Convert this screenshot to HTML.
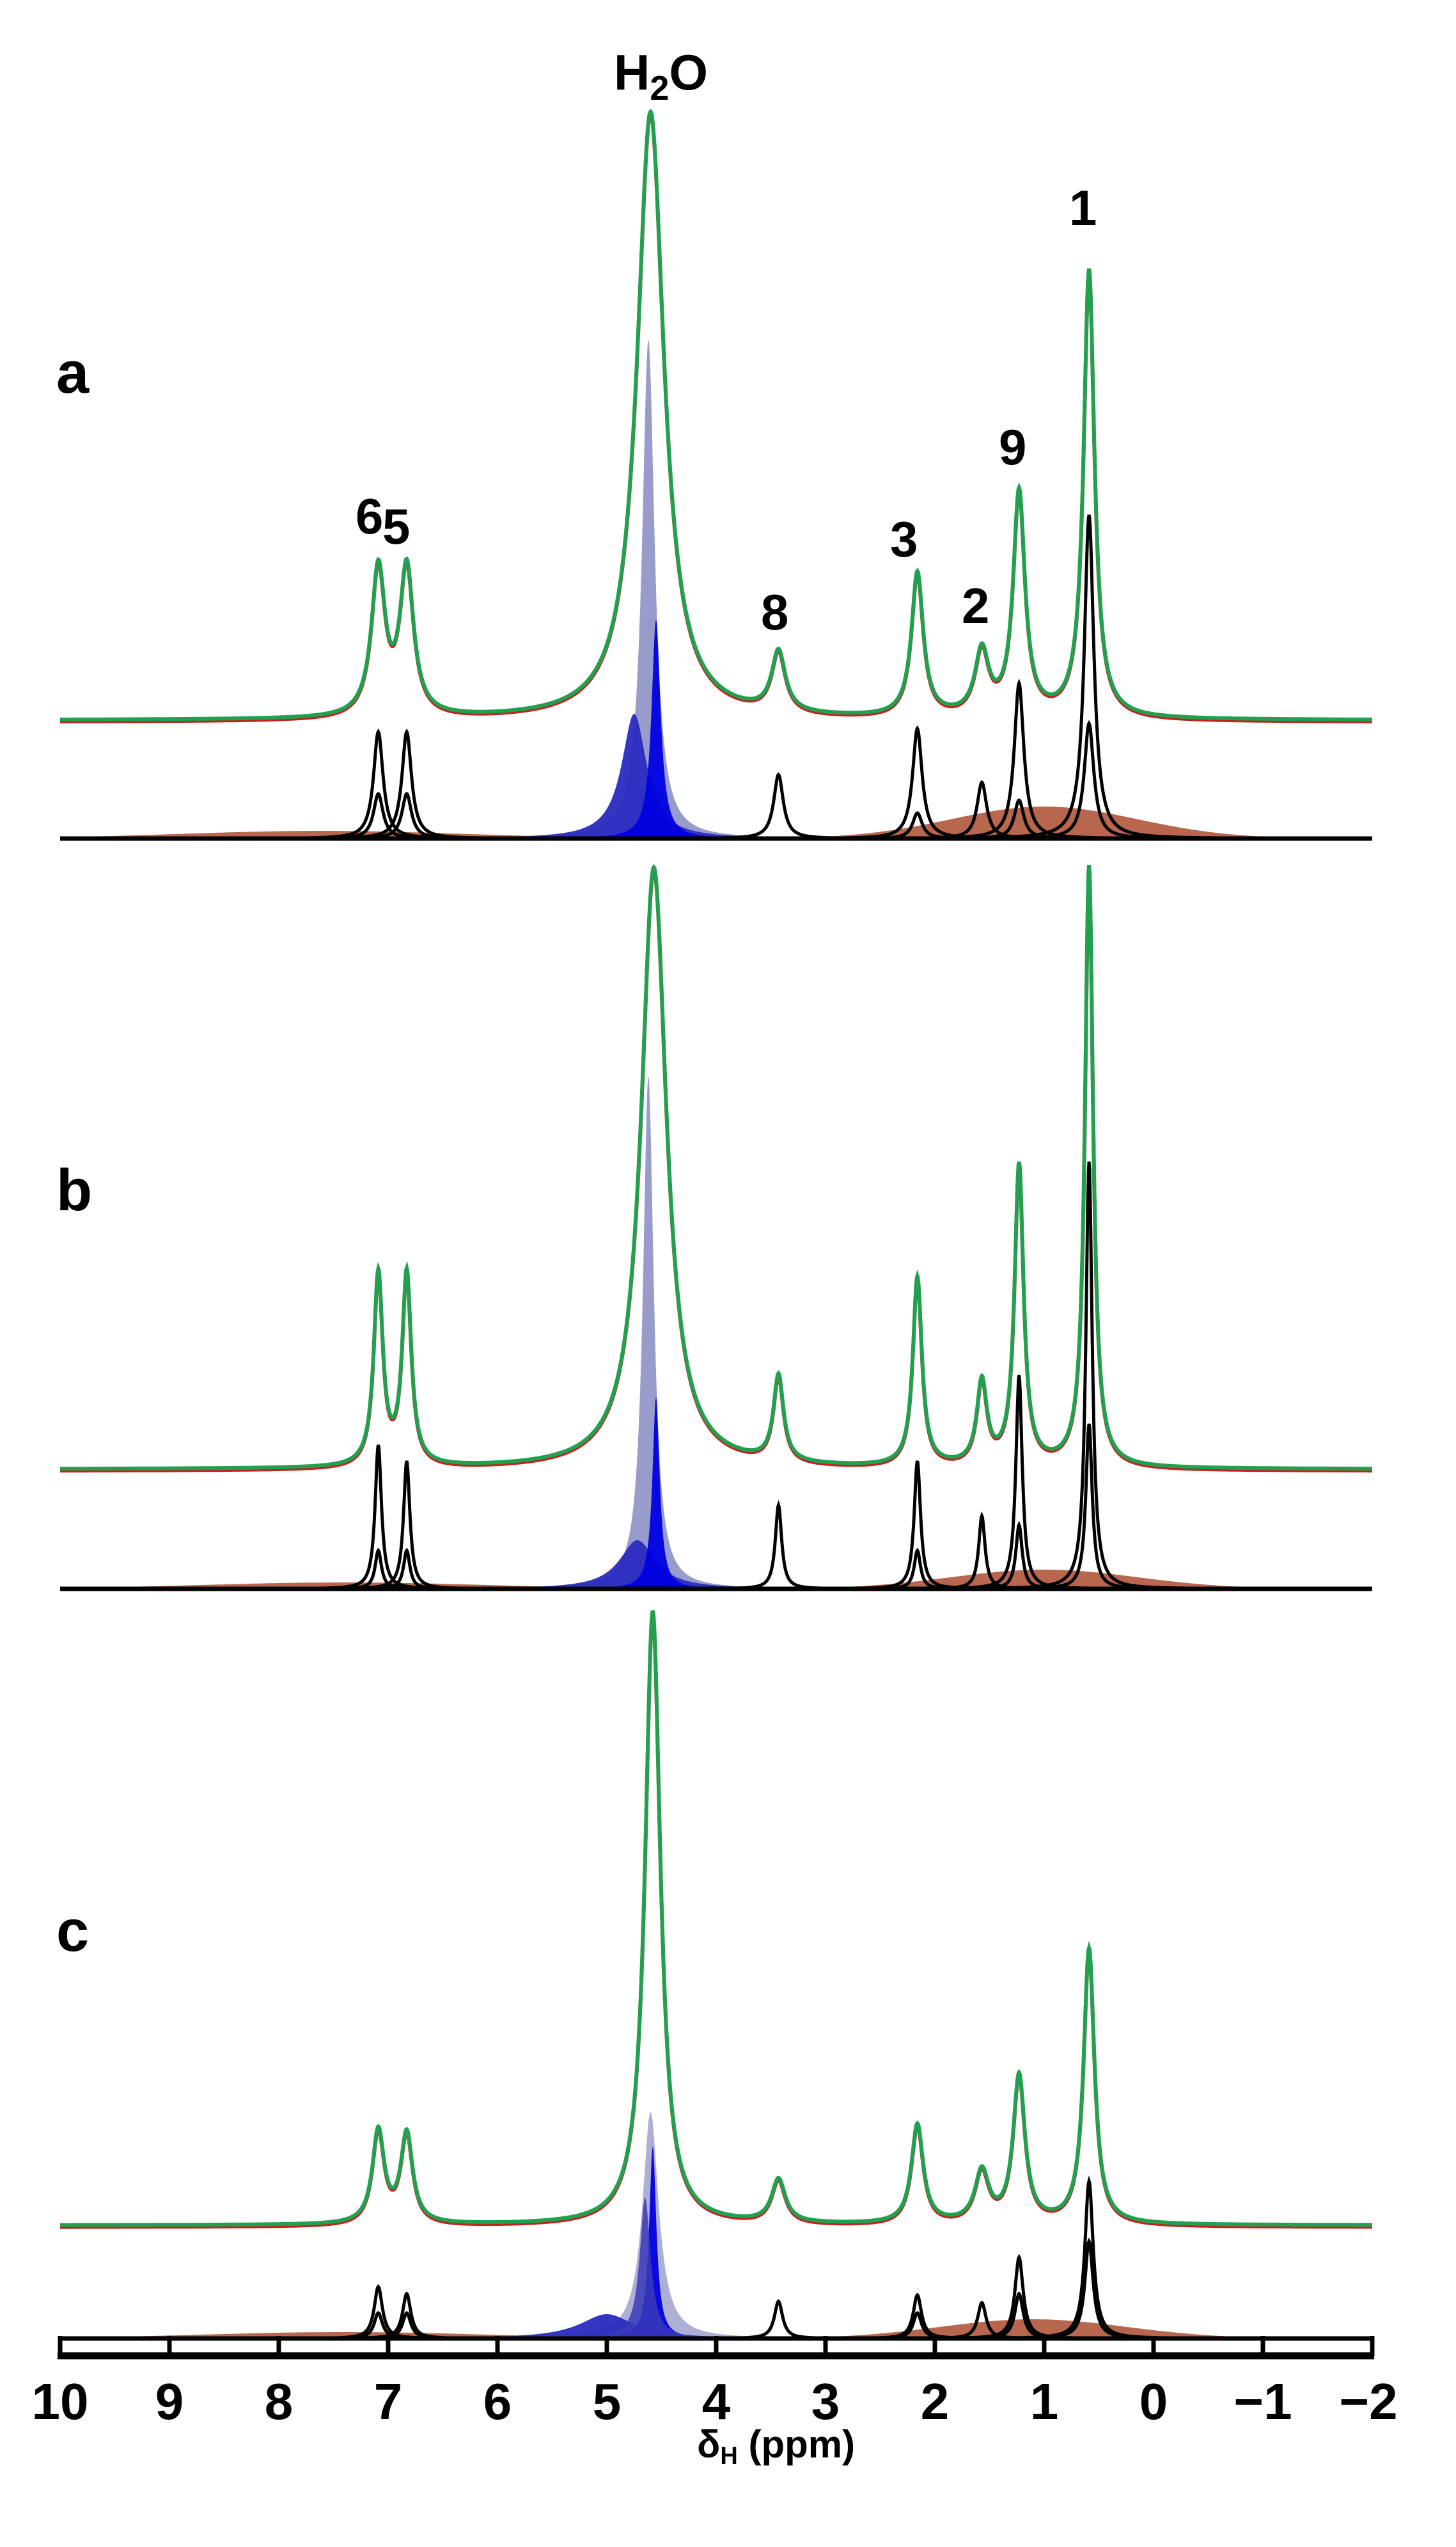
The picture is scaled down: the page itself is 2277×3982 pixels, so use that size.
<!DOCTYPE html>
<html><head><meta charset="utf-8"><style>
html,body{margin:0;padding:0;background:#fff;}
svg{display:block;}
text{font-family:"Liberation Sans",sans-serif;font-weight:bold;fill:#000;}
</style></head><body>
<svg id="s" width="2277" height="3982" viewBox="0 0 2277 3982" xmlns="http://www.w3.org/2000/svg">
<g id="g"></g>
<text x="88" y="614" font-size="92">a</text>
<text x="88" y="1892" font-size="92">b</text>
<text x="88" y="3050" font-size="92">c</text>
<text x="960" y="140" font-size="78">H<tspan font-size="54" dy="16">2</tspan><tspan dy="-16">O</tspan></text>
<text x="556" y="834" font-size="78">6</text>
<text x="598" y="850" font-size="78">5</text>
<text x="1190" y="984" font-size="78">8</text>
<text x="1392" y="870" font-size="78">3</text>
<text x="1504" y="974" font-size="78">2</text>
<text x="1562" y="726" font-size="78">9</text>
<text x="1672" y="352" font-size="78">1</text>
<g font-size="80" text-anchor="middle">
<text x="94" y="3782">10</text><text x="265" y="3782">9</text><text x="436" y="3782">8</text>
<text x="607" y="3782">7</text><text x="778" y="3782">6</text><text x="949" y="3782">5</text>
<text x="1120" y="3782">4</text><text x="1291" y="3782">3</text><text x="1462" y="3782">2</text>
<text x="1633" y="3782">1</text><text x="1804" y="3782">0</text><text x="1975" y="3782">−1</text>
<text x="2140" y="3782">−2</text>
</g>
<text x="1090" y="3842" font-size="60">δ<tspan font-size="38" dy="10">H</tspan><tspan dy="-10"> (ppm)</tspan></text>
</svg>
<script>
var X=function(p){return 94+(10-p)*171;};
var g=document.getElementById('g');var NS='http://www.w3.org/2000/svg';
function L(p,pk){var s=0;for(var i=0;i<pk.length;i++){var k=pk[i];var d=p-k[0];s+=k[1]*k[2]*k[2]/(d*d+k[2]*k[2]);}return s;}
function G(p,pk){var s=0;for(var i=0;i<pk.length;i++){var k=pk[i];var d=(p-k[0])/k[2];s+=k[1]*Math.exp(-d*d/2);}return s;}
function path(fn,base,close){var d='';for(var p=10;p>=-2.0001;p-=0.005){var y=base-fn(p);d+=(d?'L':'M')+X(p).toFixed(1)+' '+y.toFixed(1);}if(close)d+='L'+X(-2)+' '+base+'L'+X(10)+' '+base+'Z';return d;}
function add(d,att){var e=document.createElementNS(NS,'path');e.setAttribute('d',d);for(var k in att)e.setAttribute(k,att[k]);g.appendChild(e);}
function line(x1,y1,x2,y2,w){var e=document.createElementNS(NS,'line');e.setAttribute('x1',x1);e.setAttribute('y1',y1);e.setAttribute('x2',x2);e.setAttribute('y2',y2);e.setAttribute('stroke','#000');e.setAttribute('stroke-width',w);g.appendChild(e);}
var panels=[
{b:1311,gb:1126,w:0.075,
 brown:[[1.0,50,0.85],[7.6,12,1.3]],
 blue:[[[4.62,780,0.07],'#8d91c4',0.9],[[4.75,195,0.14],'#2a2ac0',0.95],[[4.55,342,0.05],'#0000e0',0.95]],
 black:[[7.09,167],[7.09,70],[6.83,167],[6.83,70],[3.43,100],[2.16,172],[2.16,40],[1.57,88],[1.23,243],[1.23,60],[0.59,506],[0.59,180]],
 green:[[7.09,230,0.075],[6.83,230,0.075],[4.60,950,0.15],[3.43,95,0.075],[2.16,225,0.065],[1.57,100,0.075],[1.23,350,0.065],[0.59,700,0.06]]},
{b:2484,gb:2297,w:0.05,
 brown:[[1.0,30,0.85],[7.4,10,1.3]],
 blue:[[[4.62,802,0.06],'#8d91c4',0.9],[[4.72,76,0.2],'#2a2ac0',0.95],[[4.55,300,0.04],'#0000e0',0.95]],
 black:[[7.09,225],[7.09,60],[6.83,200],[6.83,60],[3.43,131],[2.16,200],[2.16,60],[1.57,114],[1.23,334],[1.23,100],[0.59,668],[0.59,258]],
 green:[[7.09,300,0.05],[6.83,300,0.05],[4.57,940,0.14],[3.43,135,0.055],[2.16,295,0.05],[1.57,130,0.055],[1.23,470,0.05],[0.59,940,0.045]]},
{b:3656,gb:3479,w:0.065,
 brown:[[1.1,30,0.85],[7.4,10,1.3]],
 blue:[[[4.6,354,0.09],'#a4a7cf',0.9],[[5.0,38,0.3],'#2a2ac0',0.95],[[4.58,300,0.04],'#0000e0',0.95],[[4.65,220,0.06],'#3a3ab8',0.85]],
 black:[[7.09,81],[7.09,40],[6.83,70],[6.83,40],[3.43,58],[2.16,68],[2.16,40],[1.57,56],[1.23,127],[1.23,70],[0.59,246],[0.59,152]],
 green:[[7.09,145,0.065],[6.83,140,0.065],[4.58,960,0.085],[3.43,68,0.075],[2.16,155,0.065],[1.57,80,0.075],[1.23,230,0.065],[0.59,430,0.06]]}
];
panels.forEach(function(P){
 add(path(function(p){return G(p,P.brown);},P.b,true),{fill:'#b0553a',opacity:'0.9'});
 P.blue.forEach(function(bl){add(path(function(p){return L(p,[bl[0]]);},P.b,true),{fill:bl[1],opacity:bl[2]});});
 P.black.forEach(function(k){add(path(function(p){return L(p,[[k[0],k[1],P.w*0.7]]);},P.b,false),{fill:'none',stroke:'#000','stroke-width':5});});
 var gf=function(p){return L(p,P.green);};
 add(path(gf,P.gb+3,false),{fill:'none',stroke:'#c81e1e','stroke-width':6});
 add(path(gf,P.gb,false),{fill:'none',stroke:'#21a150','stroke-width':6});
 line(94,P.b,2145,P.b,7);
});
line(90,3683,2149,3683,11);
for(var i=0;i<=12;i++){line(94+i*171,3652,94+i*171,3683,7);}
</script>
</body></html>
